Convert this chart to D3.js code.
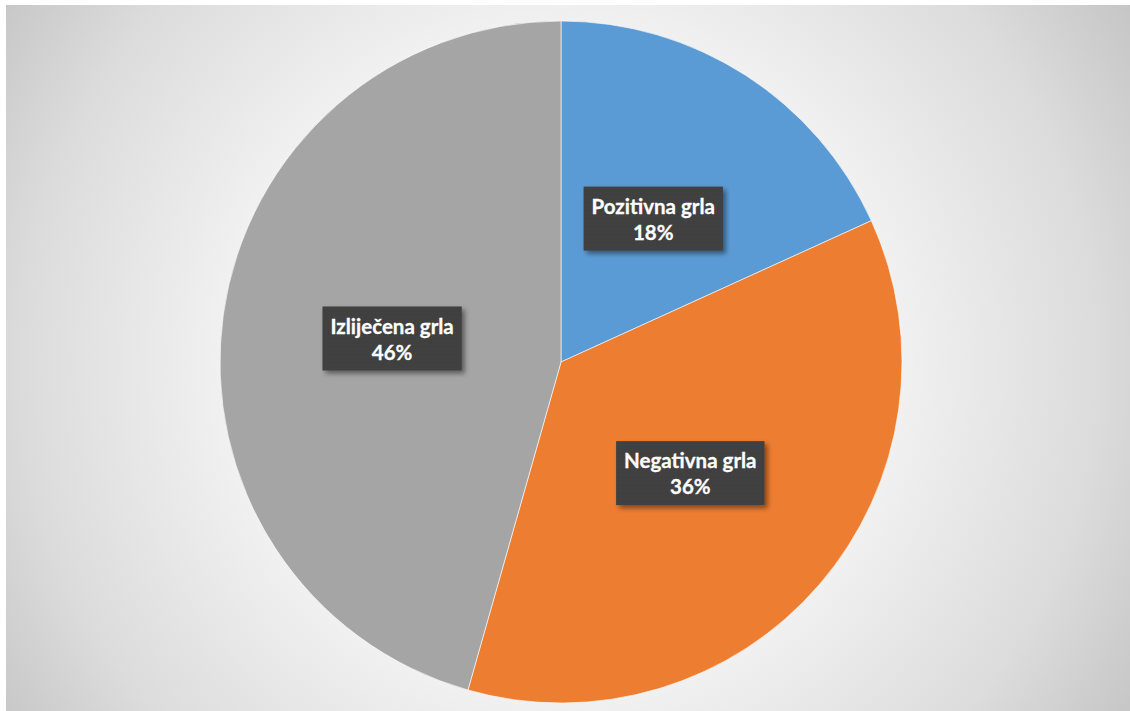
<!DOCTYPE html>
<html><head><meta charset="utf-8">
<script src="https://cdn.jsdelivr.net/npm/d3@7"></script>
<style>html,body{margin:0;padding:0;background:#fff;overflow:hidden}svg{display:block}</style>
</head><body>
<svg id="chart" width="1130" height="711"></svg>
<script>
const categories = ["Pozitivna grla", "Negativna grla", "Izliječena grla"];
const values = [18.2, 36.2, 45.6];
const percentLabels = ["18%", "36%", "46%"];
const colors = ["#5B9BD5", "#ED7D31", "#A5A5A5"];

const W = 1130, H = 711;
const svg = d3.select("#chart");
const defs = svg.append("defs");

const bg = defs.append("radialGradient").attr("id", "bg")
  .attr("gradientUnits", "userSpaceOnUse")
  .attr("cx", 561).attr("cy", 362).attr("r", 670);
[[0, "#ffffff"], [0.5, "#f1f1f1"], [0.8, "#dcdcdc"], [1, "#c6c6c6"]]
  .forEach(([o, c]) => bg.append("stop").attr("offset", o).attr("stop-color", c));

const sh = defs.append("filter").attr("id", "shadow")
  .attr("x", "-20%").attr("y", "-20%").attr("width", "140%").attr("height", "150%");
sh.append("feDropShadow").attr("dx", 3).attr("dy", 3).attr("stdDeviation", 2.5)
  .attr("flood-color", "#000").attr("flood-opacity", 0.45);

const dots = defs.append("pattern").attr("id", "dots")
  .attr("width", 4).attr("height", 4).attr("patternUnits", "userSpaceOnUse");
dots.append("rect").attr("width", 4).attr("height", 4).attr("fill", "#3f3f3f");
dots.append("circle").attr("cx", 2).attr("cy", 2).attr("r", 0.7).attr("fill", "#4a4a4a");

svg.append("rect").attr("x", 6).attr("y", 5).attr("width", W - 6).attr("height", H - 5)
  .attr("fill", "url(#bg)");

const cx = 561, cy = 362, r = 341;
const g = svg.append("g").attr("transform", `translate(${cx},${cy})`);

const pie = d3.pie().sort(null).value(d => d.v);
const arcs = pie(values.map((v, i) => ({ v, i })));
const arc = d3.arc().innerRadius(0).outerRadius(r);

g.selectAll("path.slice").data(arcs).join("path")
  .attr("class", "slice")
  .attr("d", arc)
  .attr("fill", d => colors[d.data.i])
  .attr("stroke", "#ffffff").attr("stroke-width", 1).attr("stroke-opacity", 0.6);

const labels = g.selectAll("g.lab").data(arcs).join("g")
  .attr("class", "lab")
  .attr("transform", d => `translate(${arc.centroid(d)})`);

const box = labels.append("rect").attr("fill", "url(#dots)").attr("filter", "url(#shadow)");
const txt = labels.append("text")
  .attr("text-anchor", "middle")
  .attr("fill", "#ffffff")
  .attr("stroke", "#ffffff").attr("stroke-width", 0.3)
  .attr("font-family", "Lato, 'Open Sans', sans-serif")
  .attr("font-weight", "bold")
  .attr("font-size", 20.5);
txt.append("tspan").attr("x", 0).attr("y", -5).text(d => categories[d.data.i]);
txt.append("tspan").attr("x", 0).attr("y", 21).text(d => percentLabels[d.data.i]);

labels.each(function () {
  const t = d3.select(this).select("text").node().getBBox();
  const w = t.width + 16;
  d3.select(this).select("rect")
    .attr("x", -w / 2).attr("y", -32).attr("width", w).attr("height", 64);
});
</script>
</body></html>
